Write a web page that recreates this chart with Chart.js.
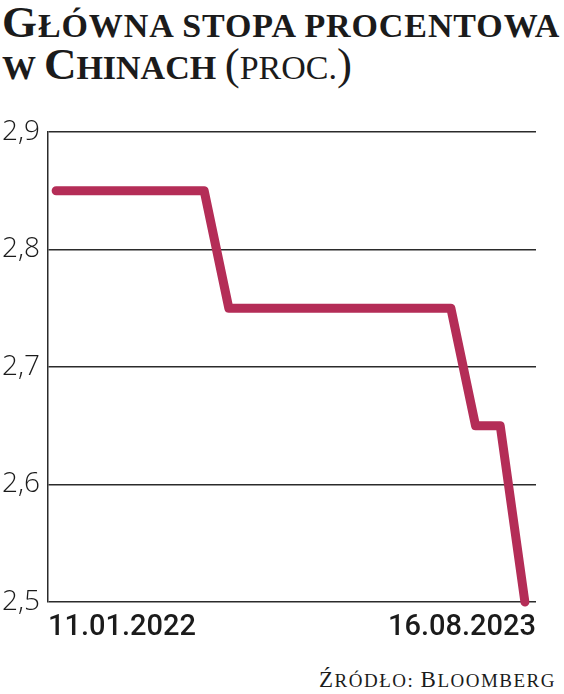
<!DOCTYPE html>
<html lang="pl">
<head>
<meta charset="utf-8">
<script src="https://cdn.jsdelivr.net/npm/chart.js@4.4.0/dist/chart.umd.min.js"></script>
<style>
  html, body { margin: 0; padding: 0; background: #fff; }
  body { width: 564px; height: 694px; position: relative; overflow: hidden; }
  .title { position: absolute; left: 2px; font-family: "Liberation Serif", serif; font-weight: bold; color: #1b1b1b; white-space: nowrap; line-height: 1; }
  .big { font-size: 45px; }
  .sc { font-size: 34px; text-transform: uppercase; }
  .reg { font-weight: normal; }
  #line1 { top: 0px; letter-spacing: 0.9px; }
  #line2 { top: 42px; }
  #chartBox { position: absolute; left: 0; top: 100px; }
  .source { position: absolute; right: 8px; top: 668px; font-family: "Liberation Serif", serif; color: #1b1b1b; white-space: nowrap; line-height: 1; letter-spacing: 1.5px; }
  .source .big { font-size: 23px; }
  .source .sc { font-size: 19px; }
</style>
</head>
<body>
<div class="title" id="line1"><span class="big">G</span><span class="sc">łówna stopa procentowa</span></div>
<div class="title" id="line2"><span class="sc">w </span><span class="big">C</span><span class="sc">hinach </span><span class="big reg">(</span><span class="sc reg">proc.</span><span class="big reg">)</span></div>
<div id="chartBox"><canvas id="rateChart" width="564" height="550"></canvas></div>
<div class="source"><span class="big">Ź</span><span class="sc">ródło: </span><span class="big">B</span><span class="sc">loomberg</span></div>

<script>
// monthly readings, first and last dates shown on the axis
const dates = [
  '11.01.2022', '11.02.2022', '11.03.2022', '11.04.2022', '11.05.2022',
  '11.06.2022', '11.07.2022', '11.08.2022', '11.09.2022', '11.10.2022',
  '11.11.2022', '11.12.2022', '11.01.2023', '11.02.2023', '11.03.2023',
  '11.04.2023', '11.05.2023', '11.06.2023', '11.07.2023', '16.08.2023'
];
const rates = [
  2.85, 2.85, 2.85, 2.85, 2.85, 2.85, 2.85,
  2.75, 2.75, 2.75, 2.75, 2.75, 2.75, 2.75, 2.75, 2.75, 2.75,
  2.65, 2.65,
  2.50
];
const yTicks = [2.5, 2.6, 2.7, 2.8, 2.9];

const ink = '#1b1b1b';
const lineColor = '#b42d57';

new Chart(document.getElementById('rateChart'), {
  type: 'line',
  data: {
    datasets: [{
      data: rates.map((v, i) => ({ x: i, y: v })),
      borderColor: lineColor,
      borderWidth: 9,
      borderCapStyle: 'round',
      borderJoinStyle: 'round',
      pointRadius: 0,
      tension: 0,
      clip: false
    }]
  },
  options: {
    responsive: false,
    animation: false,
    devicePixelRatio: 1,
    layout: { padding: { top: 32, right: 28, bottom: 0, left: 0 } },
    plugins: { legend: { display: false }, tooltip: { enabled: false } },
    scales: {
      x: {
        type: 'linear',
        min: -0.33,
        max: dates.length - 1 + 0.45,
        afterBuildTicks: (scale) => { scale.ticks = [{ value: scale.min }, { value: scale.max }]; },
        afterFit: (scale) => { scale.height = 48; },
        grid: { display: false },
        border: { display: false },
        ticks: {
          align: 'inner',
          autoSkip: false,
          maxRotation: 0,
          padding: 0,
          color: ink,
          font: { family: 'Roboto', size: 29, weight: '500' },
          callback: (v, i) => i === 0 ? dates[0] : dates[dates.length - 1]
        }
      },
      y: {
        min: yTicks[0],
        max: yTicks[yTicks.length - 1],
        afterBuildTicks: (scale) => { scale.ticks = yTicks.map(v => ({ value: v })); },
        afterFit: (scale) => { scale.width = 48; },
        grid: { color: '#2b2b2b', lineWidth: 1.5, drawTicks: false },
        border: { display: true, color: '#2b2b2b', width: 1.5 },
        ticks: {
          padding: 8,
          color: ink,
          font: { family: 'Open Sans', size: 28, weight: '300' },
          callback: (v) => Number(v).toFixed(1).replace('.', ',')
        }
      }
    }
  }
});
</script>
</body>
</html>
